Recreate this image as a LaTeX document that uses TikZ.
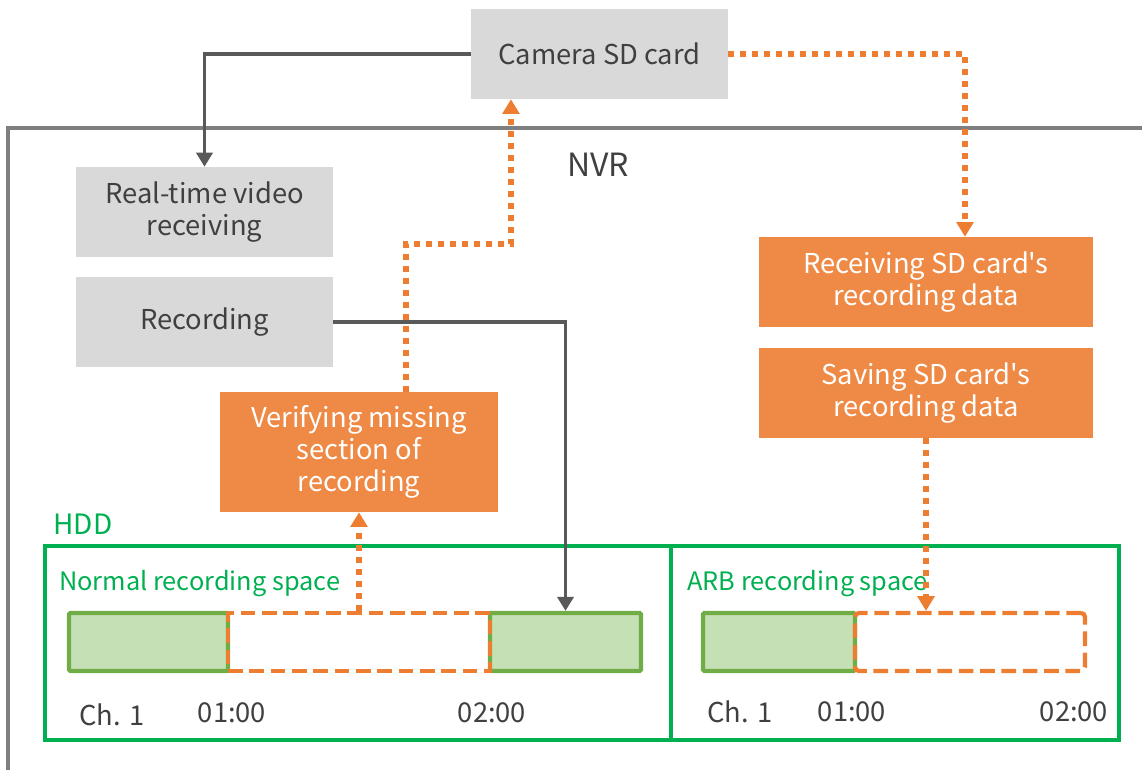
\documentclass[tikz,border=0pt]{standalone}
\usepackage{fontspec}
\newfontfamily\nf{Noto Sans CJK SC}
\usetikzlibrary{arrows.meta}
\definecolor{txt}{HTML}{404040}
\definecolor{boxgray}{HTML}{D9D9D9}
\definecolor{nvrgray}{HTML}{7F7F7F}
\definecolor{arrgray}{HTML}{595959}
\definecolor{orfill}{HTML}{EE8A45}
\definecolor{orline}{HTML}{ED7D31}
\definecolor{hddgreen}{HTML}{00B050}
\definecolor{recfill}{HTML}{C5E0B4}
\definecolor{recline}{HTML}{70AD47}
\tikzset{
  graybox/.style={fill=boxgray, text=txt, align=center, inner sep=0pt, font=\nf\fontsize{20.5}{24}\selectfont},
  orbox/.style={fill=orfill, text=white, align=center, inner sep=0pt, font=\nf\fontsize{20.5}{24}\selectfont},
  grayarrow/.style={draw=arrgray, line width=2.8pt, -{Triangle[width=12pt,length=10.5pt]}},
  dotarrow/.style={draw=orline, line width=4.4pt, dash pattern=on 4.4pt off 4.6pt, -{Triangle[width=12.5pt,length=11pt]}},
  recbox/.style={draw=recline, fill=recfill, line width=3.2pt, inner sep=0pt, rounded corners=1pt},
  missbox/.style={draw=orline, line width=3.2pt, dash pattern=on 11pt off 5pt, inner sep=0pt, minimum height=43.5pt},
  lbl/.style={text=txt, inner sep=0pt, font=\nf\fontsize{20.5}{24}\selectfont},
  glbl/.style={text=hddgreen, inner sep=0pt, font=\nf\fontsize{19}{22}\selectfont},
}
\begin{document}
\begin{tikzpicture}[x=0.75pt,y=-0.75pt]
\useasboundingbox (0,0) rectangle (1142,769);
% NVR frame
\draw[nvrgray, line width=2.6pt] (8,775) -- (8,128) -- (1150,128);
\node[text=txt, inner sep=0pt, font=\nf\fontsize{24}{28}\selectfont] (nvr) at (598,165) {NVR};
% HDD
\draw[hddgreen, line width=2.6pt] (45,546) rectangle (1119,740);
\draw[hddgreen, line width=2.6pt] (671,546) -- (671,740);
\node[glbl, font=\nf\fontsize{21}{24}\selectfont] (hdd) at (83,524) {HDD};
\node[glbl, anchor=west] (normal) at (59,584) {Normal recording space};
\node[glbl, anchor=west] (arb) at (687,584) {ARB recording space};
% boxes
\node[graybox, minimum width=192.75pt, minimum height=67.5pt] (cam) at (599.5,54) {Camera SD card};
\node[graybox, minimum width=192.75pt, minimum height=67.5pt] (rt) at (204.5,212) {Real-time video\\receiving};
\node[graybox, minimum width=192.75pt, minimum height=67.5pt] (rec) at (204.5,322) {Recording};
\node[orbox, minimum width=208.5pt, minimum height=90pt] (ver) at (359,452) {Verifying missing\\section of\\recording};
\node[orbox, minimum width=250.5pt, minimum height=67.5pt] (rcv) at (926,282) {Receiving SD card's\\recording data};
\node[orbox, minimum width=250.5pt, minimum height=67.5pt] (sav) at (926,393) {Saving SD card's\\recording data};
% recording bars
\node[recbox, minimum width=119.25pt, minimum height=43.5pt] (g1) at (148.5,642) {};
\node[recbox, minimum width=113.25pt, minimum height=43.5pt] (g2) at (565.5,642) {};
\node[recbox, minimum width=114pt, minimum height=43.5pt] (g3) at (779,642) {};
\node[missbox, minimum width=196.5pt] (d1) at (359,642) {};
\node[missbox, minimum width=172.5pt, rounded corners=3pt] (d2) at (970,642) {};
% time labels
\node[lbl] (ch1a) at (112,715) {Ch. 1};
\node[lbl] (t1a) at (232,713) {01:00};
\node[lbl] (t2a) at (492,713) {02:00};
\node[lbl] (ch1b) at (740,712) {Ch. 1};
\node[lbl] (t1b) at (852,712) {01:00};
\node[lbl] (t2b) at (1074,712) {02:00};
% connectors
\draw[grayarrow] (cam.west) -| (rt.north);
\draw[grayarrow] (rec.east) -| (g2.north);
\coordinate (v1) at (406,244);
\draw[dotarrow] (ver.north -| v1) -- (v1) -| ([xshift=-66.4pt]cam.south);
\draw[dotarrow] (cam.east) -| ([xshift=29.25pt]rcv.north);
\draw[dotarrow] (sav.south) -- (sav.south |- d2.north);
\draw[dotarrow] (d1.north) -- (ver.south);
\end{tikzpicture}
\end{document}
